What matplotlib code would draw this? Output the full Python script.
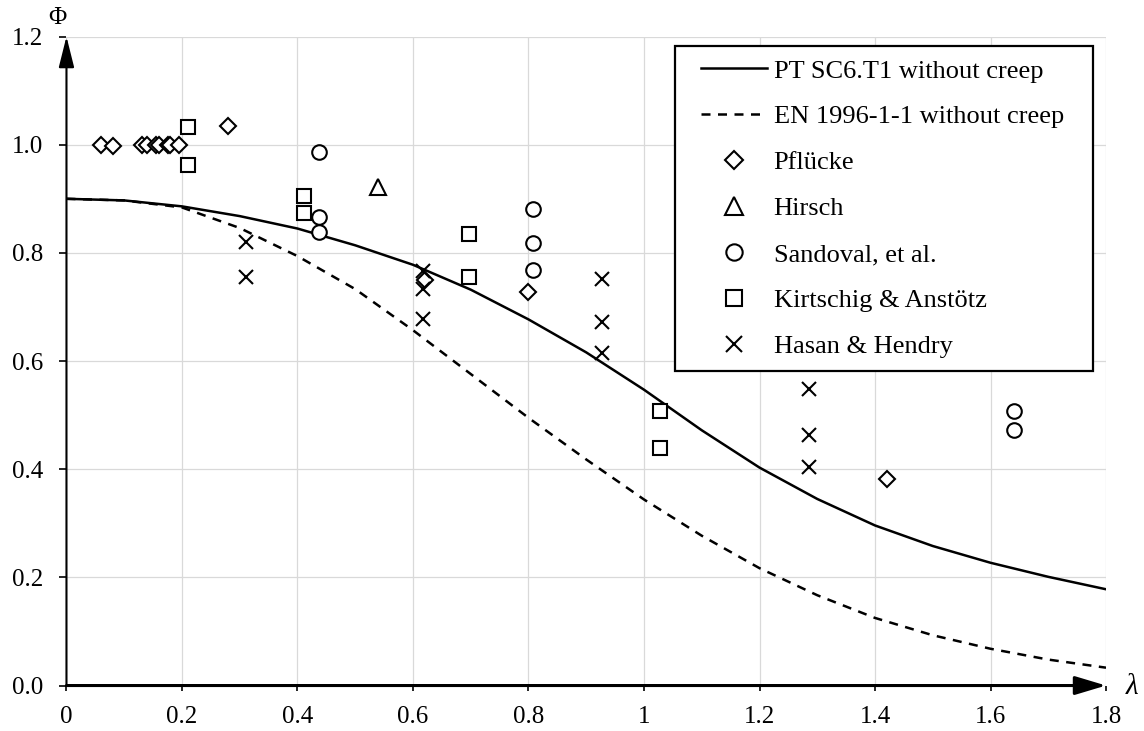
import matplotlib
matplotlib.use("Agg")
import matplotlib.pyplot as plt
from matplotlib.patches import Rectangle

plt.rcParams['font.family'] = ['Liberation Serif', 'DejaVu Serif']

# design curves, every 0.1
lam_curve = [0.0, 0.1, 0.2, 0.3, 0.4, 0.5, 0.6, 0.7, 0.8, 0.9,
             1.0, 1.1, 1.2, 1.3, 1.4, 1.5, 1.6, 1.7, 1.8]
pt_sc6 = [0.900, 0.897, 0.886, 0.868, 0.845, 0.814, 0.778, 0.732, 0.677, 0.616,
          0.547, 0.472, 0.403, 0.345, 0.296, 0.258, 0.227, 0.201, 0.178]
en_1996 = [0.900, 0.897, 0.884, 0.846, 0.794, 0.733, 0.657, 0.576, 0.495, 0.418,
           0.344, 0.277, 0.217, 0.167, 0.125, 0.093, 0.068, 0.048, 0.033]

# test results
pflucke_x = [0.06, 0.08, 0.13, 0.14, 0.155, 0.16, 0.175, 0.18, 0.195, 0.28, 0.62, 0.80, 1.42]
pflucke_y = [1.0, 0.998, 1.0, 1.0, 1.0, 1.0, 1.0, 1.0, 1.0, 1.034, 0.75, 0.728, 0.381]
hirsch_x = [0.54]
hirsch_y = [0.921]
sandoval_x = [0.437, 0.437, 0.437, 0.807, 0.807, 0.807, 1.64, 1.64]
sandoval_y = [0.986, 0.867, 0.839, 0.881, 0.818, 0.768, 0.508, 0.473]
kirtschig_x = [0.21, 0.21, 0.412, 0.412, 0.697, 0.697, 1.027, 1.027]
kirtschig_y = [1.033, 0.963, 0.906, 0.874, 0.834, 0.756, 0.508, 0.440]
hasan_x = [0.31, 0.31, 0.618, 0.618, 0.618, 0.927, 0.927, 0.927, 1.286, 1.286, 1.286]
hasan_y = [0.820, 0.756, 0.766, 0.734, 0.677, 0.752, 0.672, 0.614, 0.549, 0.464, 0.405]

x_ticks = [0, 0.2, 0.4, 0.6, 0.8, 1.0, 1.2, 1.4, 1.6, 1.8]
x_ticklabels = ['0', '0.2', '0.4', '0.6', '0.8', '1', '1.2', '1.4', '1.6', '1.8']
y_ticks = [0.0, 0.2, 0.4, 0.6, 0.8, 1.0, 1.2]
y_ticklabels = ['0.0', '0.2', '0.4', '0.6', '0.8', '1.0', '1.2']

fig = plt.figure(figsize=(11.44, 7.31), dpi=100)
ax = fig.add_axes([0.0581, 0.0622, 0.9087, 0.8878])

ax.plot(lam_curve, pt_sc6, color='black', lw=1.8, label='PT SC6.T1 without creep', zorder=3)
ax.plot(lam_curve, en_1996, color='black', lw=1.8, dashes=(3.6, 3.0),
        label='EN 1996-1-1 without creep', zorder=3)

mk = dict(linestyle='none', markerfacecolor='white', markeredgecolor='black',
          markeredgewidth=1.5, zorder=4)
ax.plot(pflucke_x, pflucke_y, marker='D', markersize=8.3, label='Pflücke', **mk)
ax.plot(hirsch_x, hirsch_y, marker='^', markersize=11, label='Hirsch', **mk)
ax.plot(sandoval_x, sandoval_y, marker='o', markersize=10.5, label='Sandoval, et al.', **mk)
ax.plot(kirtschig_x, kirtschig_y, marker='s', markersize=10.5, label='Kirtschig & Anstötz', **mk)
ax.plot(hasan_x, hasan_y, marker='x', markersize=10.5, label='Hasan & Hendry', **mk)

ax.set_xlim(0, 1.8)
ax.set_ylim(0, 1.2)
ax.set_xticks(x_ticks)
ax.set_xticklabels(x_ticklabels)
ax.set_yticks(y_ticks)
ax.set_yticklabels(y_ticklabels)
ax.grid(True, color='#d9d9d9', lw=0.9, zorder=0)
ax.set_axisbelow(True)
for s in ax.spines.values():
    s.set_visible(False)
ax.tick_params(axis='y', direction='out', length=5, width=1.2, pad=11.5, labelsize=18)
ax.tick_params(axis='x', direction='out', length=3.5, width=1.2, pad=11, labelsize=18)

# axes drawn as arrows
ax.annotate('', xy=(1, 0), xytext=(0, 0), xycoords='axes fraction',
            arrowprops=dict(arrowstyle='-|>,head_length=1.0,head_width=0.3',
                            lw=2.2, color='black', shrinkA=0, shrinkB=0,
                            mutation_scale=19), zorder=5)
ax.annotate('', xy=(0, 1), xytext=(0, 0), xycoords='axes fraction',
            arrowprops=dict(arrowstyle='-|>,head_length=1.0,head_width=0.25',
                            lw=1.5, color='black', shrinkA=0, shrinkB=0,
                            mutation_scale=19), zorder=5)
ax.text(-0.009, 1.029, 'Φ', transform=ax.transAxes, ha='center', va='center', fontsize=18)
ax.text(1.025, -0.002, 'λ', transform=ax.transAxes, ha='center', va='center',
        fontsize=21, fontstyle='italic')

leg = ax.legend(loc='upper left', bbox_to_anchor=(0.6104, 0.9653), frameon=False,
                fontsize=19, handlelength=2.5, handletextpad=0.25, labelspacing=0.85,
                borderpad=0, borderaxespad=0, markerscale=1.12)
leg.set_zorder(6)
ax.add_patch(Rectangle((0.585, 0.485), 0.4025, 0.5004, transform=ax.transAxes,
                       facecolor='white', edgecolor='black', lw=1.6, zorder=5.5))

fig.savefig('out.png', dpi=100)
